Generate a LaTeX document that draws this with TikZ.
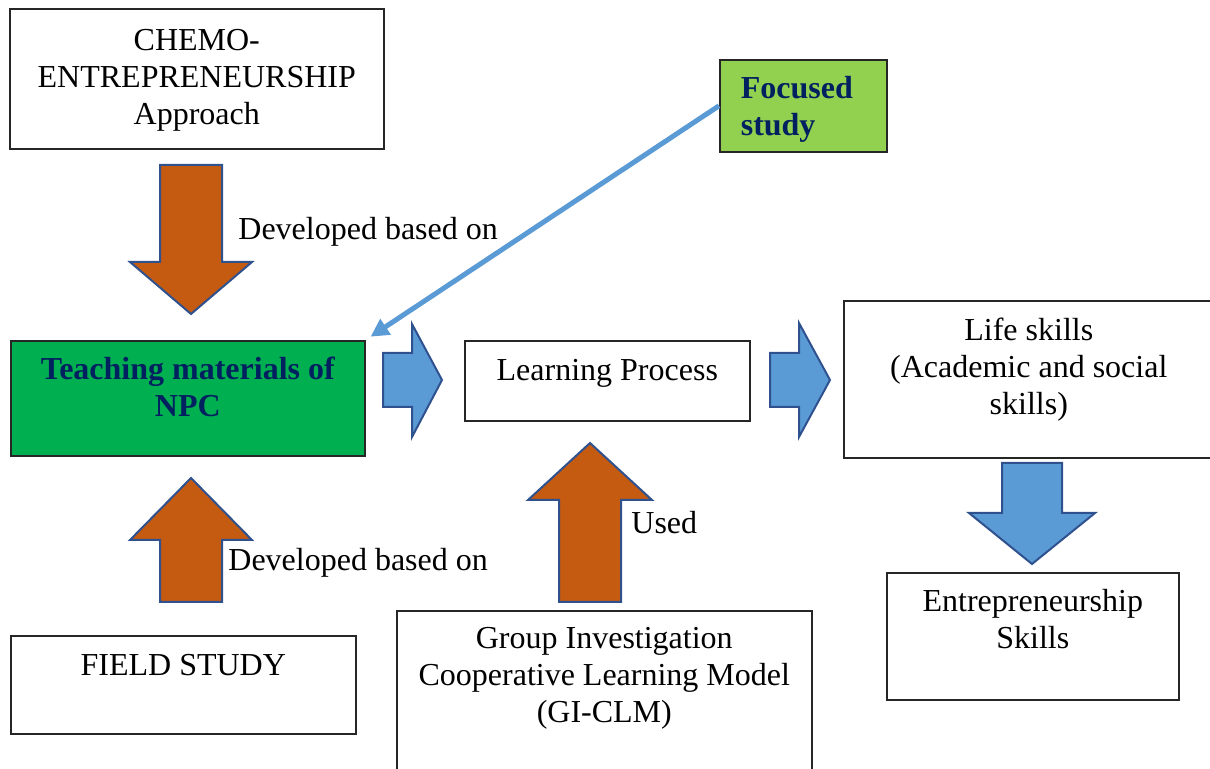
\documentclass[tikz,border=0pt]{standalone}
\usepackage{fontspec}
\setmainfont{Liberation Serif}
\usetikzlibrary{arrows.meta}
\definecolor{brownFill}{HTML}{C55A11}
\definecolor{arrowLine}{HTML}{2F528F}
\definecolor{blueFill}{HTML}{5B9BD5}
\definecolor{greenFill}{HTML}{00B050}
\definecolor{limeFill}{HTML}{92D050}
\definecolor{navyText}{HTML}{002060}
\begin{document}
\begin{tikzpicture}[
  x=0.5pt, y=-0.5pt,
  every node/.style={font=\fontsize{16pt}{18.5pt}\selectfont},
  box/.style={draw=black!85, line width=0.8pt, fill=white, anchor=north west,
    inner sep=0pt, align=flush center},
  boxGreen/.style={box, fill=greenFill, text=navyText, font=\fontsize{16pt}{18.5pt}\selectfont\bfseries},
  boxLime/.style={box, fill=limeFill, text=navyText, align=flush left, inner xsep=10.5pt,
    font=\fontsize{16pt}{18.5pt}\selectfont\bfseries},
  tag/.style={anchor=base west, inner sep=0pt},
  arrowBrown/.style={fill=brownFill, draw=arrowLine, line width=1pt},
  arrowBlue/.style={fill=blueFill, draw=arrowLine, line width=1pt},
  pointer/.style={draw=blueFill, line width=2.5pt, -{Triangle[length=9pt,width=9pt]}, shorten >=3pt}
  ]
  \useasboundingbox (0,0) rectangle (1210,769);

  % boxes
  \node[box, text width=187pt, text height=21pt, text depth=49pt] (chemo) at (9,8)
    {CHEMO-\\ENTREPRENEURSHIP\\Approach};
  \node[boxGreen, text width=177pt, text height=19.5pt, text depth=38pt] (teach) at (10,340)
    {Teaching materials of\\NPC};
  \node[box, text width=142.5pt, text height=20pt, text depth=20pt] (learn) at (464,340)
    {Learning Process};
  \node[box, text width=185pt, text height=20pt, text depth=58.5pt] (life) at (843,300)
    {Life skills\\(Academic and social\\skills)};
  \node[box, text width=146pt, text height=19.5pt, text depth=44pt] (entre) at (886,572)
    {Entrepreneurship\\Skills};
  \node[box, text width=172.5pt, text height=20pt, text depth=29pt] (field) at (10,635)
    {FIELD STUDY};
  \node[box, text width=207.5pt, text height=19pt, text depth=71pt] (gi) at (396,610)
    {Group Investigation\\Cooperative Learning Model\\(GI-CLM)};
  \node[boxLime, text width=62.5pt, text height=19.5pt, text depth=26.5pt] (focus) at (719,59)
    {Focused\\study};

  % block arrows
  \draw[arrowBrown] (160,165) -- (222,165) -- (222,262) -- (252,262) -- (191,314)
    -- (130,262) -- (160,262) -- cycle;
  \draw[arrowBrown] (160,602) -- (222,602) -- (222,540) -- (252,540) -- (191,478)
    -- (130,540) -- (160,540) -- cycle;
  \draw[arrowBrown] (559,602) -- (621,602) -- (621,500) -- (652,500) -- (590,443)
    -- (528,500) -- (559,500) -- cycle;
  \draw[arrowBlue] (383,353) -- (412,353) -- (412,324) -- (442,380) -- (412,437)
    -- (412,407) -- (383,407) -- cycle;
  \draw[arrowBlue] (770,353) -- (799,353) -- (799,323) -- (830,380) -- (799,437)
    -- (799,407) -- (770,407) -- cycle;
  \draw[arrowBlue] (1002,463) -- (1062,463) -- (1062,513) -- (1095,513) -- (1032,564)
    -- (969,513) -- (1002,513) -- cycle;

  % labels
  \node[tag] (devTop) at (238,240) {Developed based on};
  \node[tag] (devBottom) at (228,571) {Developed based on};
  \node[tag] (used) at (631,534) {Used};

  \draw[pointer] (focus.west) -- (teach.north east);
\end{tikzpicture}
\end{document}
